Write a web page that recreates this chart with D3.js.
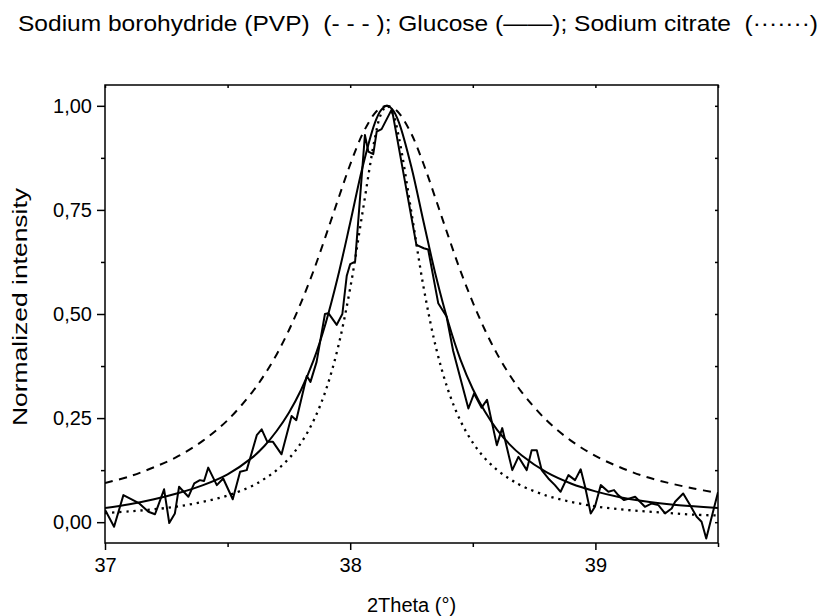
<!DOCTYPE html>
<html>
<head>
<meta charset="utf-8">
<script src="https://cdn.jsdelivr.net/npm/d3@7"></script>
<style>
  body { margin: 0; background: #fff; }
  svg { display: block; font-family: "Liberation Sans", Arial, sans-serif; }
</style>
</head>
<body>
<div id="chart"></div>
<script>
// Smooth curves
const fitX = [37.0, 37.1, 37.2, 37.3, 37.4, 37.5, 37.6, 37.65, 37.7, 37.75, 37.8, 37.85, 37.9, 37.95,
    38.0, 38.05, 38.1, 38.125, 38.15, 38.175, 38.2, 38.25, 38.3, 38.35, 38.4, 38.45, 38.5, 38.55, 38.6, 38.65,
    38.7, 38.8, 38.9, 39.0, 39.1, 39.2, 39.3, 39.4, 39.5];

const pvpY = [0.094, 0.110, 0.132, 0.159, 0.196, 0.245, 0.312, 0.354, 0.403, 0.461, 0.528, 0.603, 0.687, 0.774,
    0.859, 0.932, 0.982, 0.995, 1.000, 0.995, 0.982, 0.932, 0.859, 0.774, 0.687, 0.603, 0.528, 0.461, 0.403, 0.354,
    0.312, 0.245, 0.196, 0.159, 0.132, 0.110, 0.094, 0.081, 0.070];

const glucoseFitY = [0.034, 0.043, 0.055, 0.070, 0.089, 0.115, 0.155, 0.183, 0.219, 0.263, 0.318, 0.388, 0.478, 0.590,
    0.719, 0.852, 0.958, 0.989, 1.000, 0.989, 0.958, 0.852, 0.719, 0.590, 0.480, 0.390, 0.320, 0.265, 0.221, 0.187,
    0.160, 0.120, 0.093, 0.074, 0.060, 0.050, 0.043, 0.038, 0.034];

const citrateY = [0.022, 0.026, 0.031, 0.038, 0.049, 0.064, 0.087, 0.104, 0.125, 0.153, 0.191, 0.243, 0.316, 0.419,
    0.562, 0.743, 0.920, 0.979, 1.000, 0.979, 0.920, 0.743, 0.562, 0.419, 0.316, 0.243, 0.191, 0.153, 0.125, 0.104,
    0.087, 0.064, 0.049, 0.038, 0.031, 0.026, 0.022, 0.018, 0.016];

// Raw glucose pattern
const rawX = [37.000, 37.037, 37.075, 37.140, 37.177, 37.204, 37.241, 37.262, 37.285, 37.302, 37.340, 37.364,
    37.387, 37.404, 37.421, 37.456, 37.482, 37.521, 37.551, 37.578, 37.619, 37.639, 37.662, 37.685, 37.720,
    37.761, 37.780, 37.823, 37.838, 37.863, 37.897, 37.911, 37.945, 37.968, 37.986, 38.000, 38.020, 38.060,
    38.074, 38.094, 38.108, 38.128, 38.170, 38.270, 38.300, 38.318, 38.359, 38.393, 38.420, 38.482, 38.505,
    38.536, 38.558, 38.598, 38.620, 38.661, 38.686, 38.720, 38.740, 38.761, 38.781, 38.808, 38.835, 38.858,
    38.890, 38.917, 38.940, 38.958, 38.981, 38.998, 39.022, 39.053, 39.076, 39.093, 39.117, 39.162, 39.202,
    39.230, 39.257, 39.284, 39.311, 39.325, 39.358, 39.386, 39.413, 39.433, 39.452, 39.500];

const rawY = [0.030, -0.011, 0.065, 0.045, 0.025, 0.019, 0.079, -0.002, 0.021, 0.085, 0.061, 0.093,
    0.101, 0.099, 0.131, 0.089, 0.105, 0.055, 0.121, 0.125, 0.209, 0.223, 0.193, 0.193, 0.163,
    0.255, 0.245, 0.351, 0.337, 0.385, 0.500, 0.502, 0.474, 0.500, 0.592, 0.620, 0.626, 0.930,
    0.890, 0.884, 0.938, 0.944, 0.992, 0.666, 0.658, 0.655, 0.526, 0.494, 0.411, 0.273, 0.309,
    0.275, 0.294, 0.185, 0.226, 0.125, 0.157, 0.125, 0.173, 0.173, 0.125, 0.105, 0.089, 0.073,
    0.113, 0.101, 0.127, 0.085, 0.021, 0.037, 0.089, 0.073, 0.077, 0.065, 0.053, 0.061, 0.037,
    0.045, 0.041, 0.021, 0.033, 0.049, 0.069, 0.041, 0.013, 0.001, -0.039, 0.072];

const xMajor = [37, 38, 39];
const xMinor = [37.5, 38.5, 39.5];
const yMajor = [0, 0.25, 0.5, 0.75, 1];
const yMinor = [0.125, 0.375, 0.625, 0.875];

const titleText = "Sodium borohydride (PVP)  (- - - ); Glucose (——); Sodium citrate  (·······)";

const W = 825, H = 616;
const margin = { top: 85, right: 107, bottom: 73, left: 105 };

const svg = d3.select("#chart")
    .append("svg")
    .attr("width", W)
    .attr("height", H);

const x = d3.scaleLinear()
    .domain([37, 39.5])
    .range([margin.left, W - margin.right]);

const y = d3.scaleLinear()
    .domain([-0.05, 1.05])
    .range([H - margin.bottom, margin.top]);

const fmtY = d => d3.format(".2f")(d).replace(".", ",");

// clip
svg.append("clipPath").attr("id", "clip")
    .append("rect")
    .attr("x", x(37)).attr("y", y(1.05))
    .attr("width", x(39.5) - x(37)).attr("height", y(-0.05) - y(1.05));

const plot = svg.append("g").attr("clip-path", "url(#clip)");

const smooth = d3.line()
    .x(d => x(d[0]))
    .y(d => y(d[1]))
    .curve(d3.curveCatmullRom.alpha(0.5));

const straight = d3.line()
    .x(d => x(d[0]))
    .y(d => y(d[1]));

const series = [
    { vals: d3.zip(fitX, pvpY), dash: "8,6.5", width: 2, line: smooth },
    { vals: d3.zip(fitX, citrateY), dash: "2.3,4.8", width: 2.3, line: smooth },
    { vals: d3.zip(rawX, rawY), dash: null, width: 2, line: straight },
    { vals: d3.zip(fitX, glucoseFitY), dash: null, width: 2, line: smooth }
];

series.forEach(s => {
    plot.append("path")
        .attr("fill", "none")
        .attr("stroke", "#000")
        .attr("stroke-width", s.width)
        .attr("stroke-linejoin", "round")
        .attr("stroke-dasharray", s.dash)
        .attr("d", s.line(s.vals));
});

// Axes
const bottom = H - margin.bottom;
svg.append("g")
    .attr("transform", `translate(0,${bottom})`)
    .call(d3.axisBottom(x).tickValues(xMajor).tickSize(7).tickPadding(8).tickFormat(d3.format("d")))
    .call(g => g.select(".domain").remove());
svg.append("g")
    .attr("transform", `translate(0,${bottom})`)
    .call(d3.axisBottom(x).tickValues(xMinor).tickSize(4).tickFormat(""))
    .call(g => g.select(".domain").remove());

svg.append("g")
    .attr("transform", `translate(${margin.left},0)`)
    .call(d3.axisLeft(y).tickValues(yMajor).tickSize(8).tickPadding(5).tickFormat(fmtY))
    .call(g => g.select(".domain").remove());
svg.append("g")
    .attr("transform", `translate(${margin.left},0)`)
    .call(d3.axisLeft(y).tickValues(yMinor).tickSize(4).tickFormat(""))
    .call(g => g.select(".domain").remove());

// little inside ticks on top and right
svg.append("g")
    .attr("transform", `translate(0,${margin.top})`)
    .call(d3.axisBottom(x).tickValues(xMajor.concat(xMinor)).tickSize(3).tickFormat(""))
    .call(g => g.select(".domain").remove());
svg.append("g")
    .attr("transform", `translate(${W - margin.right},0)`)
    .call(d3.axisLeft(y).tickValues(yMajor.concat(yMinor)).tickSize(3).tickFormat(""))
    .call(g => g.select(".domain").remove());

svg.selectAll(".tick line").attr("stroke", "#000").attr("stroke-width", 1.5);
svg.selectAll(".tick text")
    .attr("fill", "#000")
    .style("font-size", "20px")
    .style("font-family", "'Liberation Sans', Arial, sans-serif");

// frame
svg.append("rect")
    .attr("x", x(37))
    .attr("y", y(1.05))
    .attr("width", x(39.5) - x(37))
    .attr("height", y(-0.05) - y(1.05))
    .attr("fill", "none")
    .attr("stroke", "#000")
    .attr("stroke-width", 1.5);

// Axis labels
svg.append("text")
    .attr("x", (x(37) + x(39.5)) / 2)
    .attr("y", 612)
    .attr("text-anchor", "middle")
    .style("font-size", "20px")
    .text("2Theta (°)");

svg.append("text")
    .attr("transform", `translate(20,${307}) rotate(-90)`)
    .attr("text-anchor", "middle")
    .attr("dy", "0.35em")
    .attr("textLength", 238)
    .attr("lengthAdjust", "spacingAndGlyphs")
    .style("font-size", "20px")
    .text("Normalized intensity");

// Title
svg.append("text")
    .attr("x", 18)
    .attr("y", 31)
    .attr("textLength", 800)
    .attr("lengthAdjust", "spacingAndGlyphs")
    .style("font-size", "22px")
    .style("white-space", "pre")
    .text(titleText);
</script>
</body>
</html>
